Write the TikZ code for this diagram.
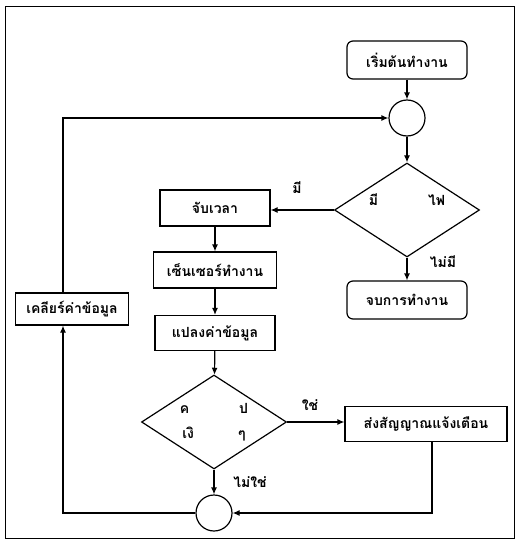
\documentclass[tikz,border=0pt]{standalone}
\usepackage{fontspec}
\usetikzlibrary{shapes.geometric,arrows.meta}
\newfontfamily\thaifont[Script=Thai]{Loma}

\begin{document}
\begin{tikzpicture}[
  x=1pt, y=-1pt,
  every node/.style={font=\thaifont\bfseries\fontsize{14}{17}\selectfont},
  terminal/.style={draw, rounded corners=6pt, line width=1.2pt, minimum width=120pt, minimum height=38pt},
  process/.style={draw, line width=1.2pt, minimum width=#1, minimum height=36pt, inner xsep=3pt},
  process/.default=120pt,
  decision/.style={draw, diamond, aspect=1.5, line width=1.2pt, minimum width=145pt, minimum height=94pt, inner sep=0pt, align=center},
  joint/.style={draw, circle, line width=1.2pt, minimum size=36pt, inner sep=0pt},
  flow/.style={-{Latex[length=7pt,width=6pt]}, line width=1.2pt}
]
\useasboundingbox (0,0) rectangle (518,543);
\draw[line width=1pt] (5,7) rectangle (514,538);

% main column
\node[terminal] (start) at (407,60) {เริ่มต้นทำงาน};
\node[joint] (top) at (407,118) {};
\node[decision] (power) at (407,210) {มี\hspace{50pt}ไฟ\\[4pt]\mbox{}};
\node[terminal] (stop) at (407,300) {จบการทำงาน};

% measuring column
\node[process=110pt] (timer) at (215,208) {จับเวลา};
\node[process=123pt] (sensor) at (215,270) {เซ็นเซอร์ทำงาน};
\node[process=120pt, minimum height=35pt] (convert) at (215,333) {แปลงค่าข้อมูล};
\node[decision] (check) at (214,422) {ค\hspace{50pt}ป\\[8pt]เงิ\hspace{44pt}ๆ};
\node[process=162pt, minimum height=35pt] (alarm) at (426,424) {ส่งสัญญาณแจ้งเตือน};
\node[joint] (bottom) at (214,513) {};
\node[process=113pt, minimum height=32pt] (clear) at (72,309) {เคลียร์ค่าข้อมูล};

% branch labels
\node (yes1) at (297,188) {มี};
\node (no1) at (443,262) {ไม่มี};
\node (yes2) at (310,405) {ใช่};
\node (no2) at (250,482) {ไม่ใช่};

\draw[flow] (start) -- (top);
\draw[flow] (top) -- (power);
\draw[flow] (power) -- (stop);
\draw[flow] (power.west) -- (power.west -| timer.east);
\draw[flow] (timer) -- (sensor);
\draw[flow] (sensor) -- (convert);
\draw[flow] (convert) -- (check);
\draw[flow] (check.east) -- (check.east -| alarm.west);
\draw[flow] (check) -- (bottom);
\draw[flow] ([xshift=6pt]alarm.south) |- (bottom.east);
\draw[flow] (bottom.west) -| ([xshift=-9pt]clear.south);
\draw[flow] ([xshift=-9pt]clear.north) |- (top.west);
\end{tikzpicture}
\end{document}
